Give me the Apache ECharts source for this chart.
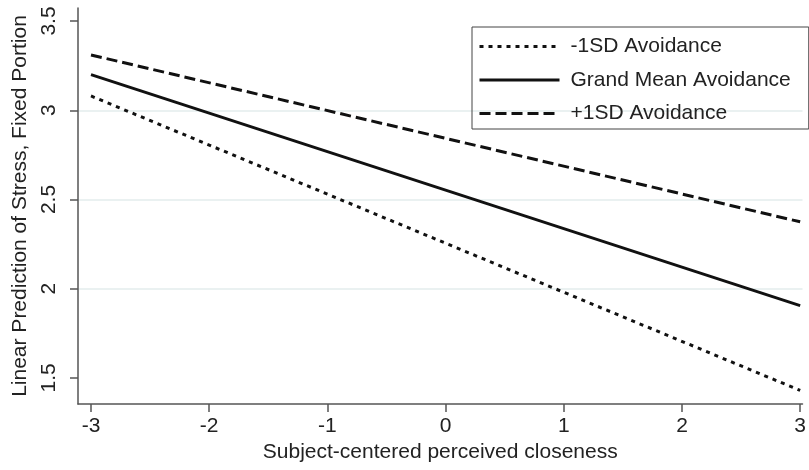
<!DOCTYPE html>
<html>
<head>
<meta charset="utf-8">
<script src="https://cdn.jsdelivr.net/npm/echarts@6/dist/echarts.min.js"></script>
<style>html,body{margin:0;padding:0;background:#fff;}#c{width:809px;height:470px;}</style>
</head>
<body>
<div id="c"></div>
<script>
// Data
var xValues = [-3, 3];
var minus1SD = [3.08, 1.43];
var grandMean = [3.20, 1.905];
var plus1SD = [3.31, 2.375];
var seriesNames = ['-1SD Avoidance', 'Grand Mean Avoidance', '+1SD Avoidance'];
var xTicks = [-3, -2, -1, 0, 1, 2, 3];
var yTicks = [1.5, 2, 2.5, 3, 3.5];

function pairs(xs, ys) { return xs.map(function (x, i) { return [x, ys[i]]; }); }

var FONT = '"Liberation Sans", Arial, Helvetica, sans-serif';
var axisColor = '#555555';
var chart = echarts.init(document.getElementById('c'), null, {renderer: 'canvas'});
chart.setOption({
  animation: false,
  backgroundColor: '#ffffff',
  color: ['#111111', '#111111', '#111111'],
  textStyle: {fontFamily: FONT},
  grid: {left: 78, right: 0, top: 8, bottom: 66, containLabel: false},
  legend: {
    orient: 'vertical',
    left: 472, top: 27,
    padding: [9, 18, 5, 6],
    itemWidth: 80, itemHeight: 21, itemGap: 12.5,
    borderColor: '#444444', borderWidth: 1,
    itemStyle: {color: 'rgba(0,0,0,0)', borderWidth: 0, opacity: 0},
    lineStyle: {width: 3, color: '#111111'},
    textStyle: {fontFamily: FONT, fontSize: 21, color: '#222222', padding: [0, 0, 0, 6]},
    data: seriesNames
  },
  xAxis: {
    type: 'value', min: -3.11, max: 3.02,
    name: 'Subject-centered perceived closeness',
    nameLocation: 'middle', nameGap: 35,
    nameTextStyle: {fontFamily: FONT, fontSize: 21, color: '#222222'},
    axisLine: {show: true, onZero: false, lineStyle: {color: axisColor, width: 1.5}},
    axisTick: {show: true, length: 8, customValues: xTicks, lineStyle: {color: axisColor, width: 1.5}},
    axisLabel: {customValues: xTicks, fontFamily: FONT, fontSize: 21, color: '#222222', margin: 12},
    splitLine: {show: false}
  },
  yAxis: {
    type: 'value', min: 1.354, max: 3.573,
    name: 'Linear Prediction of Stress, Fixed Portion',
    nameLocation: 'middle', nameGap: 47,
    nameTextStyle: {fontFamily: FONT, fontSize: 21, color: '#222222'},
    axisLine: {show: true, onZero: false, lineStyle: {color: axisColor, width: 1.5}},
    axisTick: {show: true, length: 8, customValues: yTicks, lineStyle: {color: axisColor, width: 1.5}},
    axisLabel: {customValues: yTicks, rotate: 90, fontFamily: FONT, fontSize: 21, color: '#222222', margin: 18},
    splitLine: {show: true, showMinLine: false, showMaxLine: false, lineStyle: {color: '#e3eded', width: 1.5}}
  },
  series: [
    {name: seriesNames[0], type: 'line', symbol: 'none', data: pairs(xValues, minus1SD),
     itemStyle: {color: '#111111'},
     lineStyle: {color: '#111111', width: 3, type: [4, 5]}},
    {name: seriesNames[1], type: 'line', symbol: 'none', data: pairs(xValues, grandMean),
     itemStyle: {color: '#111111'},
     lineStyle: {color: '#111111', width: 2.8, type: 'solid'}},
    {name: seriesNames[2], type: 'line', symbol: 'none', data: pairs(xValues, plus1SD),
     itemStyle: {color: '#111111'},
     lineStyle: {color: '#111111', width: 3, type: [11, 5]}}
  ]
});
</script>
</body>
</html>
